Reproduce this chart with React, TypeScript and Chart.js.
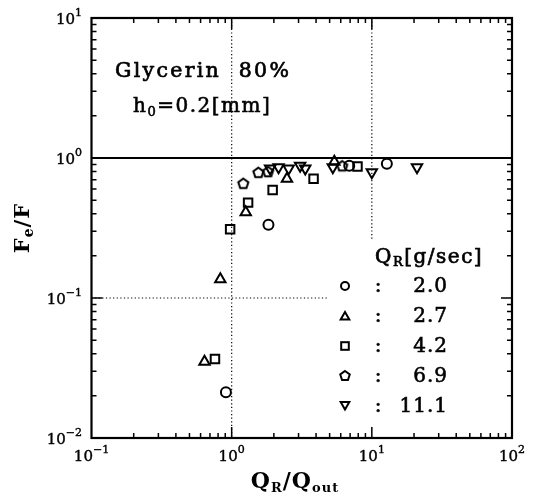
import React, { useEffect, useRef } from 'react';
import { Chart, registerables } from 'chart.js';
Chart.register(...registerables);

// ---- data ----
const seriesLabels = ['2.0', '2.7', '4.2', '6.9', '11.1'];
const circleX = [0.91, 1.83, 6.9, 12.8];
const circleY = [0.0212, 0.334, 0.88, 0.91];
const triUpX = [0.64, 0.83, 1.26, 2.48, 5.4];
const triUpY = [0.035, 0.136, 0.41, 0.71, 0.94];
const squareX = [0.76, 0.975, 1.31, 1.96, 3.84, 7.9];
const squareY = [0.0367, 0.31, 0.48, 0.59, 0.71, 0.87];
const pentX = [1.21, 1.55, 1.82, 6.15];
const pentY = [0.66, 0.79, 0.8, 0.88];
const triDownX = [1.88, 2.16, 2.55, 3.08, 3.35, 5.27, 10.0, 21];
const triDownY = [0.84, 0.86, 0.84, 0.88, 0.84, 0.86, 0.79, 0.86];
const xTickExps = [-1, 0, 1, 2];
const yTickExps = [-2, -1, 0, 1];
const refLineY = 1;

const FONT = '"DejaVu Serif", serif';

type Part = { t: string; s: number; w?: string; dy?: number };

function drawRich(ctx: CanvasRenderingContext2D, parts: Part[], x: number, y: number, align: string, spacing: number, thicken = 0.5) {
  (ctx as any).letterSpacing = spacing + 'px';
  let total = 0;
  const widths = parts.map((p) => {
    ctx.font = `${p.w || 'normal'} ${p.s}px ${FONT}`;
    const w = ctx.measureText(p.t).width;
    total += w;
    return w;
  });
  let cx = align === 'center' ? x - total / 2 : align === 'right' ? x - total : x;
  ctx.textAlign = 'left';
  ctx.textBaseline = 'alphabetic';
  ctx.setLineDash([]);
  parts.forEach((p, i) => {
    ctx.font = `${p.w || 'normal'} ${p.s}px ${FONT}`;
    ctx.fillText(p.t, cx, y + (p.dy || 0));
    if (thicken > 0) {
      ctx.lineWidth = thicken;
      ctx.strokeText(p.t, cx, y + (p.dy || 0));
    }
    cx += widths[i];
  });
  (ctx as any).letterSpacing = '0px';
}

function pentPath(g: CanvasRenderingContext2D, cx: number, cy: number, r: number) {
  g.beginPath();
  for (let i = 0; i < 5; i++) {
    const a = -Math.PI / 2 + (i * 2 * Math.PI) / 5;
    const px = cx + r * Math.cos(a);
    const py = cy + r * Math.sin(a);
    if (i) g.lineTo(px, py);
    else g.moveTo(px, py);
  }
  g.closePath();
}

function triPath(g: CanvasRenderingContext2D, cx: number, cy: number, r: number, down: boolean) {
  g.beginPath();
  for (let i = 0; i < 3; i++) {
    const a = (down ? Math.PI : 0) + (i * 2 * Math.PI) / 3;
    const px = cx + Math.sin(a) * r;
    const py = cy - Math.cos(a) * r;
    if (i) g.lineTo(px, py);
    else g.moveTo(px, py);
  }
  g.closePath();
}

function makePentagon(r: number, lw: number) {
  const size = Math.ceil(2 * r + lw + 4);
  const c = document.createElement('canvas');
  c.width = size;
  c.height = size;
  const g = c.getContext('2d')!;
  pentPath(g, size / 2, size / 2 + r * 0.1, r);
  g.lineWidth = lw;
  g.strokeStyle = '#000';
  g.stroke();
  return c;
}

const framePlugin = {
  id: 'frame',
  beforeDatasetsDraw(chart: any) {
    const ctx: CanvasRenderingContext2D = chart.ctx;
    const xs = chart.scales.x;
    const ys = chart.scales.y;
    const { top, bottom, left } = chart.chartArea;
    ctx.save();
    ctx.strokeStyle = '#000';
    ctx.lineWidth = 1.2;
    ctx.setLineDash([1.2, 2.4]);
    let px = xs.getPixelForValue(1);
    ctx.beginPath();
    ctx.moveTo(px, top);
    ctx.lineTo(px, bottom);
    ctx.stroke();
    px = xs.getPixelForValue(10);
    ctx.beginPath();
    ctx.moveTo(px, top);
    ctx.lineTo(px, ys.getPixelForValue(0.26));
    ctx.stroke();
    const py = ys.getPixelForValue(0.1);
    ctx.beginPath();
    ctx.moveTo(left, py);
    ctx.lineTo(xs.getPixelForValue(4.9), py);
    ctx.stroke();
    ctx.restore();
  },
  afterDraw(chart: any) {
    const ctx: CanvasRenderingContext2D = chart.ctx;
    const xs = chart.scales.x;
    const ys = chart.scales.y;
    const { top, bottom, left, right } = chart.chartArea;
    ctx.save();
    ctx.strokeStyle = '#000';
    ctx.fillStyle = '#000';
    ctx.lineWidth = 1.5;
    const major = 11;
    const minor = 5;
    for (let d = -1; d < 2; d++) {
      for (let m = 1; m <= 9; m++) {
        if (m === 1 && d === -1) continue;
        const p = xs.getPixelForValue(m * Math.pow(10, d));
        const len = m === 1 ? major : minor;
        ctx.beginPath();
        ctx.moveTo(p, bottom);
        ctx.lineTo(p, bottom - len);
        ctx.moveTo(p, top);
        ctx.lineTo(p, top + len);
        ctx.stroke();
      }
    }
    for (let d = -2; d < 1; d++) {
      for (let m = 1; m <= 9; m++) {
        if (m === 1 && d === -2) continue;
        const p = ys.getPixelForValue(m * Math.pow(10, d));
        const len = m === 1 ? major : minor;
        ctx.beginPath();
        ctx.moveTo(left, p);
        ctx.lineTo(left + len, p);
        ctx.moveTo(right, p);
        ctx.lineTo(right - len, p);
        ctx.stroke();
      }
    }
    ctx.lineWidth = 2.2;
    ctx.strokeRect(left, top, right - left, bottom - top);

    xTickExps.forEach((e) => {
      const p = xs.getPixelForValue(Math.pow(10, e));
      drawRich(ctx, [
        { t: '10', s: 15 },
        { t: e < 0 ? '\u2212' + Math.abs(e) : String(e), s: 11, dy: -8 },
      ], p, bottom + 23, 'center', 0, 0.4);
    });
    yTickExps.forEach((e) => {
      const p = ys.getPixelForValue(Math.pow(10, e));
      drawRich(ctx, [
        { t: '10', s: 15 },
        { t: e < 0 ? '\u2212' + Math.abs(e) : String(e), s: 11, dy: -8 },
      ], 82, p + 5.5, 'right', 0, 0.4);
    });

    drawRich(ctx, [
      { t: 'Q', s: 22, w: 'bold' },
      { t: 'R', s: 13, w: 'bold', dy: 4 },
      { t: '/Q', s: 22, w: 'bold' },
      { t: 'out', s: 13, w: 'bold', dy: 4 },
    ], 295, 488, 'center', 1, 0);
    ctx.save();
    ctx.translate(29, 228);
    ctx.rotate(-Math.PI / 2);
    drawRich(ctx, [
      { t: 'F', s: 21, w: 'bold' },
      { t: 'e', s: 14, w: 'bold', dy: 4 },
      { t: '/F', s: 21, w: 'bold' },
    ], 0, 0, 'center', 1, 0);
    ctx.restore();

    drawRich(ctx, [{ t: 'Glycerin  80%', s: 20.5 }], 115, 77, 'left', 2.3, 0.7);
    drawRich(ctx, [
      { t: 'h', s: 20 },
      { t: '0', s: 13, dy: 4 },
      { t: '=0.2[mm]', s: 20 },
    ], 133, 112, 'left', 1.5, 0.6);

    drawRich(ctx, [
      { t: 'Q', s: 20 },
      { t: 'R', s: 13, dy: 3 },
      { t: '[g/sec]', s: 20 },
    ], 375, 263, 'left', 1.5, 0.7);
    const baselines = [292, 322, 352, 381.5, 411.5];
    seriesLabels.forEach((lab, i) => {
      const by = baselines[i];
      const cy = by - 6;
      const mx = 345;
      ctx.lineWidth = 2;
      ctx.setLineDash([]);
      if (i === 0) {
        ctx.beginPath();
        ctx.arc(mx, cy, 4, 0, Math.PI * 2);
        ctx.stroke();
      } else if (i === 1) {
        triPath(ctx, mx, cy + 1, 5, false);
        ctx.stroke();
      } else if (i === 2) {
        ctx.strokeRect(mx - 3.8, cy - 3.8, 7.6, 7.6);
      } else if (i === 3) {
        pentPath(ctx, mx, cy + 0.5, 5);
        ctx.stroke();
      } else {
        triPath(ctx, mx, cy - 1, 5, true);
        ctx.stroke();
      }
      drawRich(ctx, [{ t: ':', s: 20 }], 378, by, 'center', 0, 0.6);
      drawRich(ctx, [{ t: lab, s: 20 }], 448, by, 'right', 1, 0.6);
    });
    ctx.restore();
  },
};

export default function App() {
  const ref = useRef<HTMLCanvasElement>(null);
  useEffect(() => {
    if (!ref.current) return;
    const pent = makePentagon(5.3, 2);
    const pts = (xs: number[], ys: number[]) => xs.map((x, i) => ({ x, y: ys[i] }));
    const common = {
      pointBorderColor: '#000',
      pointBackgroundColor: 'rgba(0,0,0,0)',
      pointBorderWidth: 2,
      showLine: false,
    };
    const chart = new Chart(ref.current, {
      type: 'scatter',
      data: {
        datasets: [
          {
            type: 'line',
            data: [
              { x: 0.1, y: refLineY },
              { x: 100, y: refLineY },
            ],
            borderColor: '#000',
            borderWidth: 2,
            pointRadius: 0,
            showLine: true,
          } as any,
          { ...common, label: seriesLabels[0], data: pts(circleX, circleY), pointStyle: 'circle', pointRadius: 5 },
          { ...common, label: seriesLabels[1], data: pts(triUpX, triUpY), pointStyle: 'triangle', pointRadius: 6 },
          { ...common, label: seriesLabels[2], data: pts(squareX, squareY), pointStyle: 'rect', pointRadius: 6 },
          { ...common, label: seriesLabels[3], data: pts(pentX, pentY), pointStyle: pent, pointRadius: 6 },
          { ...common, label: seriesLabels[4], data: pts(triDownX, triDownY), pointStyle: 'triangle', pointRotation: 180, pointRadius: 6 },
        ] as any,
      },
      options: {
        animation: false,
        responsive: false,
        events: [],
        layout: { padding: { left: 91.5, top: 18, right: 22, bottom: 63 } },
        scales: {
          x: { type: 'logarithmic', min: 0.1, max: 100, display: false },
          y: { type: 'logarithmic', min: 0.01, max: 10, display: false },
        },
        plugins: { legend: { display: false }, tooltip: { enabled: false } },
      } as any,
      plugins: [framePlugin],
    });
    return () => chart.destroy();
  }, []);
  return (
    <div style={{ position: 'absolute', left: 0, top: 0, width: 534, height: 501, background: '#fff' }}>
      <canvas ref={ref} width={534} height={501} style={{ display: 'block' }} />
    </div>
  );
}
